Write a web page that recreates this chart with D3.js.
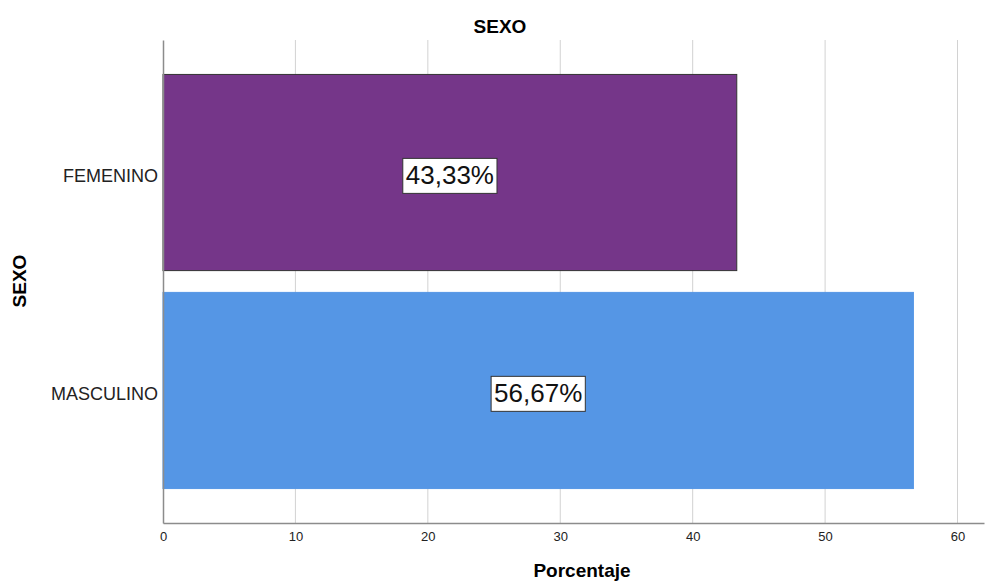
<!DOCTYPE html>
<html>
<head>
<meta charset="utf-8">
<script src="https://cdn.jsdelivr.net/npm/d3@7"></script>
<style>
  body { margin: 0; background: #fff; }
  svg { font-family: "Liberation Sans", Arial, sans-serif; }
</style>
</head>
<body>
<script>
var w = 986;
var h = 583;

// data
var categories = ["FEMENINO", "MASCULINO"];
var values = [43.33, 56.67];
var barLabels = ["43,33%", "56,67%"];
var xTicks = [0, 10, 20, 30, 40, 50, 60];
var barColors = ["#753689", "#5596e5"];
var barStrokes = ["#333333", "#5596e5"];

// plot area
var plotLeft = 163, plotTop = 40, plotBottom = 523, plotRight = 984;

var xScale = d3.scaleLinear()
  .domain([0, 62])
  .range([plotLeft, plotRight]);

var yScale = d3.scaleBand()
  .domain(categories)
  .range([plotTop, plotBottom])
  .paddingInner(0.1)
  .paddingOuter(0.158);

var svg = d3.select("body")
  .append("svg")
  .attr("width", w)
  .attr("height", h);

// gridlines
svg.selectAll("line.grid")
  .data(xTicks.slice(1))
  .enter()
  .append("line")
  .attr("class", "grid")
  .attr("x1", function(d) { return xScale(d); })
  .attr("x2", function(d) { return xScale(d); })
  .attr("y1", plotTop)
  .attr("y2", plotBottom)
  .attr("stroke", "#d2d2d2")
  .attr("stroke-width", 1);

// bars
svg.selectAll("rect.bar")
  .data(values)
  .enter()
  .append("rect")
  .attr("class", "bar")
  .attr("x", xScale(0))
  .attr("y", function(d, i) { return yScale(categories[i]); })
  .attr("width", function(d) { return xScale(d) - xScale(0); })
  .attr("height", yScale.bandwidth())
  .attr("fill", function(d, i) { return barColors[i]; })
  .attr("stroke", function(d, i) { return barStrokes[i]; })
  .attr("stroke-width", 1);

// x axis
var xAxis = d3.axisBottom(xScale)
  .tickValues(xTicks)
  .tickSize(0)
  .tickPadding(9);

var gx = svg.append("g")
  .attr("transform", "translate(0," + plotBottom + ")")
  .call(xAxis);
gx.select(".domain").attr("stroke", "#8c8c8c").attr("stroke-width", 1.5);
gx.selectAll("text").attr("font-size", 13).attr("fill", "#222");

// y axis
var yAxis = d3.axisLeft(yScale)
  .tickSize(0)
  .tickPadding(5);

var gy = svg.append("g")
  .attr("transform", "translate(" + plotLeft + ",0)")
  .call(yAxis);
gy.select(".domain").attr("stroke", "#8c8c8c").attr("stroke-width", 1.5);
gy.selectAll("text").attr("font-size", 18).attr("fill", "#222").attr("dy", "0.55em");

// value labels
var labels = svg.selectAll("g.lbl")
  .data(values)
  .enter()
  .append("g")
  .attr("class", "lbl")
  .attr("transform", function(d, i) {
    return "translate(" + ((xScale(0) + xScale(d)) / 2) + "," +
      (yScale(categories[i]) + yScale.bandwidth() / 2 + 2.5) + ")";
  });

labels.append("text")
  .attr("text-anchor", "middle")
  .attr("dy", "0.36em")
  .attr("font-size", 26)
  .attr("fill", "#111")
  .text(function(d, i) { return barLabels[i]; });

labels.each(function() {
  var g = d3.select(this);
  var bb = g.select("text").node().getBBox();
  g.insert("rect", "text")
    .attr("x", bb.x - 3)
    .attr("y", bb.y - 2)
    .attr("width", bb.width + 6)
    .attr("height", bb.height + 5)
    .attr("fill", "#fff")
    .attr("stroke", "#333")
    .attr("stroke-width", 1);
});

// title
svg.append("text")
  .attr("x", 500)
  .attr("y", 33)
  .attr("text-anchor", "middle")
  .attr("font-size", 19)
  .attr("font-weight", "bold")
  .text("SEXO");

// X-axis label
svg.append("text")
  .attr("x", 582)
  .attr("y", 577)
  .attr("text-anchor", "middle")
  .attr("font-size", 19)
  .attr("font-weight", "bold")
  .text("Porcentaje");

// Y-axis label
svg.append("text")
  .attr("transform", "rotate(-90)")
  .attr("x", -281)
  .attr("y", 26)
  .attr("text-anchor", "middle")
  .attr("font-size", 19)
  .attr("font-weight", "bold")
  .text("SEXO");
</script>
</body>
</html>
